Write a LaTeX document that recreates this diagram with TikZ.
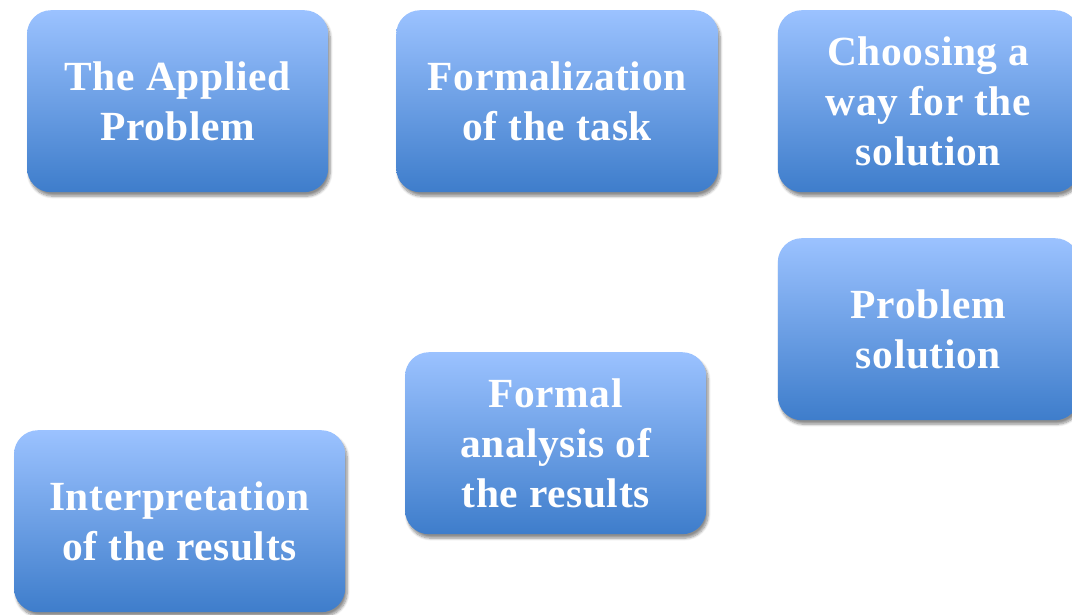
\documentclass[tikz,border=0pt]{standalone}
\definecolor{boxtop}{RGB}{155,194,255}
\definecolor{boxbottom}{RGB}{62,125,203}
\usepackage{fontspec}
\setmainfont{Liberation Serif}[LetterSpace=1.5]
\usetikzlibrary{shadows,shadows.blur}

\begin{document}
\begin{tikzpicture}[
    stage/.style={rectangle, rounded corners=0.6cm, top color=boxtop, bottom color=boxbottom,
                  draw=none, minimum width=7.53cm, minimum height=4.55cm, align=center,
                  text=white, font=\fontsize{29.5}{35.6}\selectfont\bfseries,
                  blur shadow={shadow xshift=0.05cm, shadow yshift=-0.1cm, shadow blur steps=8, shadow blur extra rounding=2pt, shadow opacity=45}}]

    \useasboundingbox (0,0) rectangle (26.8,-15.35);
    \clip (0,0) rectangle (26.8,-15.35);

    \node[stage] (applied) at (4.44,-2.53) {The Applied\\Problem};
    \node[stage, minimum width=8.05cm] (formal) at (13.93,-2.53) {Formalization\\of the task};
    \node[stage] (way) at (23.21,-2.53) {Choosing a\\way for the\\solution};
    \node[stage] (solution) at (23.21,-8.23) {Problem\\solution};
    \node[stage] (analysis) at (13.89,-11.08) {Formal\\analysis of\\the results};
    \node[stage, minimum width=8.28cm] (interp) at (4.49,-13.03) {Interpretation\\of the results};
\end{tikzpicture}
\end{document}
